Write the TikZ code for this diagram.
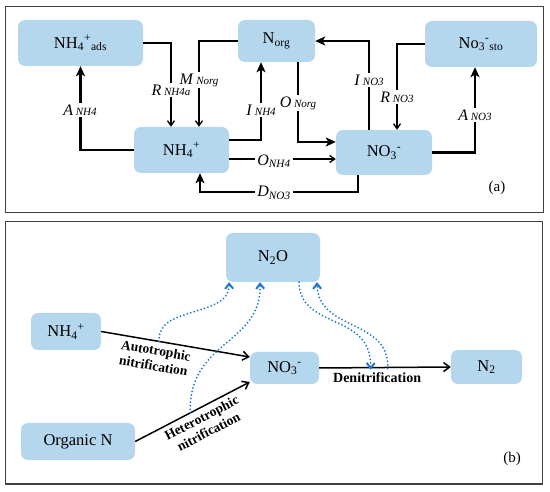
\documentclass[tikz,border=0pt]{standalone}
\usepackage{fontspec}
\setmainfont{Liberation Serif}
\usetikzlibrary{arrows.meta}
\definecolor{boxblue}{RGB}{180,215,238}
\definecolor{dotblue}{RGB}{30,118,210}
\newcommand{\ratelbl}[2]{\textit{#1}\,{\fontsize{11}{12}\selectfont\textit{#2}}}

\begin{document}
\begin{tikzpicture}[x=1pt, y=-1pt, line join=miter,
  box/.style={fill=boxblue, rounded corners=7pt, inner sep=0pt, font=\fontsize{16.5}{19}\selectfont},
  flowthick/.style={line width=2.6pt, -{Stealth[length=10pt,width=9pt,inset=2.5pt]}},
  flowthin/.style={line width=1.3pt, -{Straight Barb[length=5pt,width=7pt]}},
  rate/.style={fill=white, inner sep=2pt, font=\fontsize{16}{18}\selectfont},
  procarrow/.style={line width=1.5pt, -{Straight Barb[length=6pt,width=9pt]}},
  proclabel/.style={font=\fontsize{13.5}{15.5}\selectfont\bfseries, align=center, inner sep=4pt},
  emit/.style={dotblue, line width=2pt, line cap=round, dash pattern=on 0pt off 3.6pt, -{Straight Barb[length=5pt,width=8pt,line cap=butt]}},
  panel/.style={draw=black!75, line width=1pt}]

  %% ════ 两个面板框 ════
  \draw[panel] (5,7) rectangle (543,213);
  \draw[panel] (5,222) rectangle (542,484);

  %% ════ (a) 方框 ════
  \node[box, minimum width=125pt, minimum height=46pt] (ads) at (80.5,43) {NH\textsubscript{4}\textsuperscript{+}\textsubscript{ads}};
  \node[box, minimum width=77pt, minimum height=42pt] (norg) at (276.5,41) {N\textsubscript{org}};
  \node[box, minimum width=112pt, minimum height=46pt] (sto) at (481,44) {No\textsubscript{3}\textsuperscript{-}\textsubscript{sto}};
  \node[box, minimum width=95pt, minimum height=46pt] (nh4) at (181.5,150) {NH\textsubscript{4}\textsuperscript{+}};
  \node[box, minimum width=96pt, minimum height=45pt] (no3) at (384,152.5) {NO\textsubscript{3}\textsuperscript{-}};

  %% ════ (a) 连线 ════
  \draw[flowthick] (nh4.west) -| (ads.south);
  \draw[flowthin] (ads.east) -| (nh4.north -| 171,0);
  \draw[flowthin] (norg.west) -| (nh4.north -| 199,0);
  \draw[flowthick] (nh4.east |- 0,140) -| (norg.south -| 261,0);
  \draw[flowthin] (nh4.east |- 0,159) -- (no3.west |- 0,159);
  \draw[flowthick] (no3.south -| 358,0) |- (200,192) -- (nh4.south -| 200,0);
  \draw[flowthick] (no3.north -| 369,0) |- (norg.east);
  \draw[flowthick] (norg.south -| 298,0) |- (no3.west |- 0,142);
  \draw[flowthin] (sto.west) -| (no3.north -| 397,0);
  \draw[flowthick] (no3.east) -| (sto.south -| 475,0);

  %% ════ (a) 速率标签（fill=white 打断线）════
  \node[rate] (lANH) at (80,110) {\ratelbl{A}{NH4}};
  \node[rate] (lRNH) at (171,90) {\ratelbl{R}{NH4a}};
  \node[rate] (lMN) at (199,80) {\ratelbl{M}{Norg}};
  \node[rate] (lINH) at (261,110) {\ratelbl{I}{NH4}};
  \node[rate] (lONH) at (274,161) {\textit{O}\textsubscript{\textit{NH4}}};
  \node[rate] (lDNO) at (274,193) {\textit{D}\textsubscript{\textit{NO3}}};
  \node[rate] (lINO) at (369,80) {\ratelbl{I}{NO3}};
  \node[rate] (lON) at (298,103) {\ratelbl{O}{Norg}};
  \node[rate] (lRNO) at (397,97) {\ratelbl{R}{NO3}};
  \node[rate] (lANO) at (475,115) {\ratelbl{A}{NO3}};
  \node[font=\fontsize{15}{17}\selectfont] (tagA) at (497,188) {(a)};

  %% ════ (b) 方框 ════
  \node[box, minimum width=94pt, minimum height=49pt] (n2o) at (273,257.5) {N\textsubscript{2}O};
  \node[box, minimum width=70pt, minimum height=37pt] (bnh4) at (66,331.5) {NH\textsubscript{4}\textsuperscript{+}};
  \node[box, minimum width=114pt, minimum height=37pt] (orgn) at (78,441.5) {Organic N};
  \node[box, minimum width=69pt, minimum height=32pt] (bno3) at (284.5,368) {NO\textsubscript{3}\textsuperscript{-}};
  \node[box, minimum width=71pt, minimum height=34pt] (n2) at (486.5,367) {N\textsubscript{2}};

  %% ════ (b) 过程箭头 ════
  \draw[procarrow] (bnh4.east) -- node[proclabel, sloped, below, pos=0.38] {Autotrophic\\nitrification} coordinate[pos=0.39] (autoA) (bno3.west |- 0,357);
  \draw[procarrow] (orgn.east) -- node[proclabel, sloped, below, pos=0.54] {Heterotrophic\\nitrification} coordinate[pos=0.48] (hetA) (bno3.west |- 0,382);
  \draw[procarrow] (bno3.east) -- node[proclabel, below, pos=0.44, font=\fontsize{14}{16}\selectfont\bfseries] {Denitrification} coordinate[pos=0.39] (denA) coordinate[pos=0.52] (denB) (n2.west);

  %% ════ (b) N2O 点线 ════
  \draw[emit] (autoA) .. controls (156,305) and (230,318) .. ([xshift=-44pt]n2o.south);
  \draw[emit] (hetA) .. controls (188,340) and (262,345) .. ([xshift=-13pt]n2o.south);
  \draw[emit] ([xshift=26pt]n2o.south) .. controls (300,330) and (372,312) .. ([yshift=-2pt]denA);
  \draw[emit] ([yshift=-1pt]denB) .. controls (390,318) and (318,332) .. ([xshift=44pt]n2o.south);

  \node[font=\fontsize{15}{17}\selectfont] (tagB) at (512,459) {(b)};

  \pgfresetboundingbox
  \path[use as bounding box] (0,0) rectangle (550,492);
\end{tikzpicture}
\end{document}
